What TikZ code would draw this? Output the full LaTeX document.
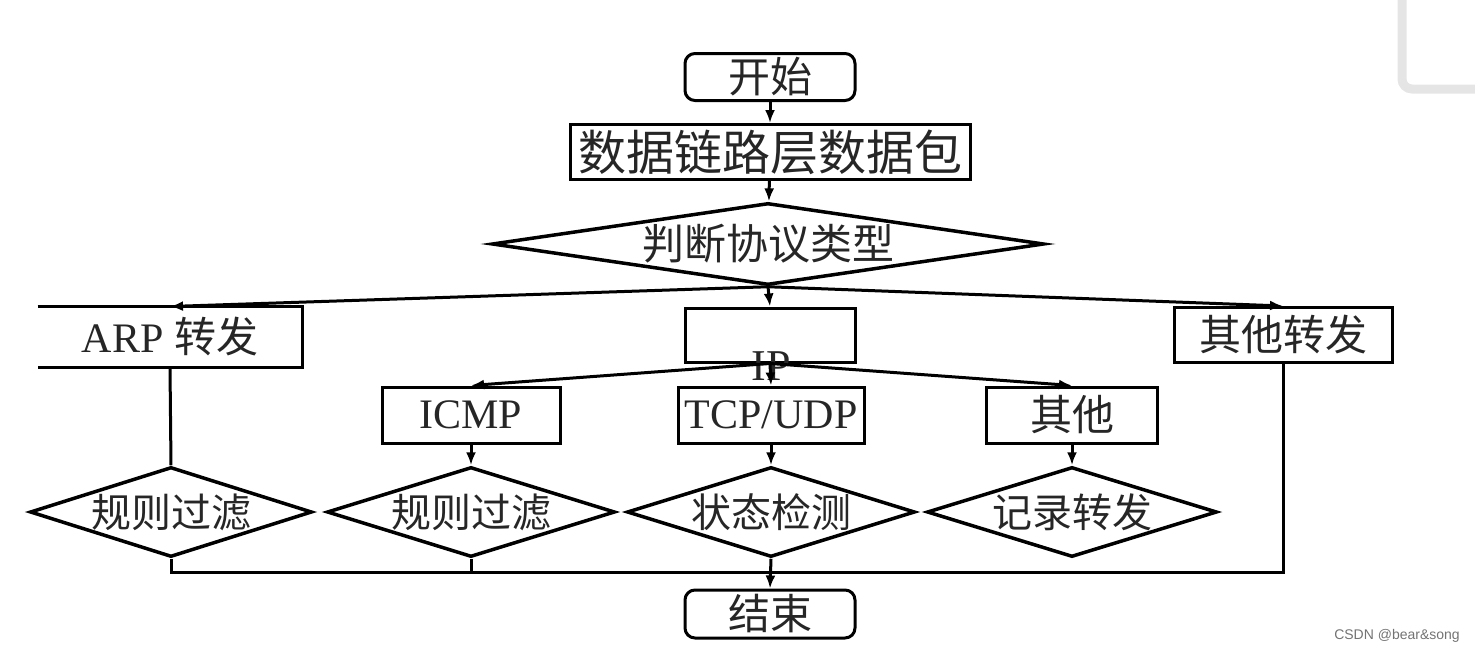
\documentclass[tikz,border=0pt]{standalone}
\usepackage{fontspec}
\setmainfont{Liberation Serif}
\newfontfamily\cjk{Noto Sans CJK SC}
\newfontfamily\markfont{Liberation Sans}
\usetikzlibrary{shapes.geometric, arrows.meta}

\newcommand{\nowidth}[1]{\makebox[0pt]{#1}}

\tikzset{
  box/.style={draw, line width=3pt, inner sep=0pt, text=black!85, font=\fontsize{42}{48}\selectfont},
  cjkbox/.style={box, font=\cjk\fontsize{42}{48}\selectfont},
  termbox/.style={cjkbox, rounded corners=10pt},
  judge/.style={draw, diamond, aspect=3, line width=3.5pt, inner sep=0pt, text=black!85, font=\cjk\fontsize{40}{48}\selectfont},
  conn/.style={line width=3pt},
  arr/.style={conn, -{Latex[length=13pt,width=10pt]}},
}

\begin{document}
\begin{tikzpicture}[x=1pt,y=1pt,yscale=-1,xscale=1]
\useasboundingbox (0,0) rectangle (1475,653);

%Shape: window corner
\draw [line width=9pt, draw=black!10, rounded corners=10pt] (1402,-10) -- (1402,89) -- (1485,89);

%Shape: top row
\node (start) [termbox, minimum width=170pt, minimum height=47pt] at (770,77) {开始};
\node (frame) [cjkbox, minimum width=400pt, minimum height=55pt, font=\cjk\fontsize{48}{52}\selectfont] at (770,152) {数据链路层数据包};
\node (type) [judge, minimum width=552pt, minimum height=82pt, font=\cjk\fontsize{42}{48}\selectfont] at (768,244) {\nowidth{判断协议类型}};

%Shape: protocol boxes
\node (arp) [box, draw=none, minimum width=262pt, minimum height=58pt] at (170,337) {ARP {\cjk 转发}};
\draw [line width=3pt] (arp.north west) -- (arp.north east) -- (arp.south east) -- (arp.south west);
\node (ip) [box, minimum width=170pt, minimum height=54pt] at (770,335) {};
\node (iplabel) [font=\fontsize{44}{48}\selectfont, text=black!85, inner sep=0pt] at (771,366) {IP};
\node (other) [cjkbox, minimum width=218pt, minimum height=55pt] at (1283,335) {其他转发};

%Shape: IP sub boxes
\node (icmp) [box, minimum width=178pt, minimum height=56pt] at (471,415) {ICMP};
\node (tcp) [box, minimum width=186pt, minimum height=56pt] at (771,415) {TCP/UDP};
\node (rest) [cjkbox, minimum width=171pt, minimum height=56pt] at (1072,415) {其他};

%Shape: checks
\node (d1) [judge, minimum width=282pt, minimum height=90pt] at (171,512) {\nowidth{规则过滤}};
\node (d2) [judge, minimum width=288pt, minimum height=90pt] at (471,512) {\nowidth{规则过滤}};
\node (d3) [judge, minimum width=288pt, minimum height=90pt] at (771,512) {\nowidth{状态检测}};
\node (d4) [judge, minimum width=290pt, minimum height=90pt] at (1072,512) {\nowidth{记录转发}};

\node (stop) [termbox, minimum width=170pt, minimum height=48pt] at (770,614) {结束};

%Straight Lines
\draw [arr] (start) -- (frame);
\draw [arr] (frame) -- (type);
\draw [arr] (type.south) -- (arp.north);
\draw [arr] (type.south) -- (ip.north);
\draw [arr] (type.south) -- (other.north);
\draw [arr] (ip.south) -- (icmp.north);
\draw [arr] (ip.south) -- (tcp.north);
\draw [arr] (ip.south) -- (rest.north);
\draw [conn] (arp.south) -- (d1.north);
\draw [arr] (icmp) -- (d2);
\draw [arr] (tcp) -- (d3);
\draw [arr] (rest) -- (d4);

%Straight Lines: bottom bus
\coordinate (bus) at (171,572);
\draw [conn] (d1.south) -- (bus) -| (other.south);
\draw [conn] (d2.south) -- (d2.south |- bus);
\draw [arr] (d3.south) -- (stop.north);

% Text Node
\node (mark) [font=\markfont\fontsize{14}{16}\selectfont, text=black!55] at (1397,636) {CSDN @bear\&song};

\end{tikzpicture}
\end{document}
